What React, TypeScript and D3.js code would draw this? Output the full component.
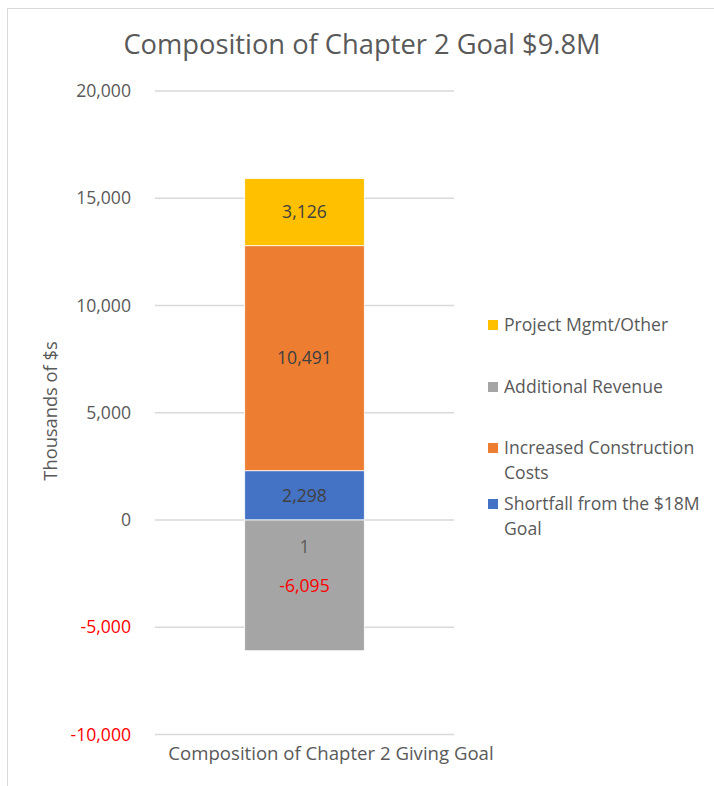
import React from "react";
import * as d3 from "d3";

const categories = ["Composition of Chapter 2 Giving Goal"];
const seriesNames = [
  "Shortfall from the $18M Goal",
  "Increased Construction Costs",
  "Additional Revenue",
  "Project Mgmt/Other",
];
const seriesValues = [2298, 10491, -6095, 3126];
const seriesColors = ["#4472C4", "#ED7D31", "#A5A5A5", "#FFC000"];
const legendOrder = [3, 2, 1, 0];
const legendLines = [
  ["Shortfall from the $18M", "Goal"],
  ["Increased Construction", "Costs"],
  ["Additional Revenue"],
  ["Project Mgmt/Other"],
];
const yTicks = [-10000, -5000, 0, 5000, 10000, 15000, 20000];
const extraLabel = { series: 2, text: "1" };
const title = "Composition of Chapter 2 Goal $9.8M";
const yTitle = "Thousands of $s";

const W = 714;
const H = 786;
const FONT = "'Open Sans', sans-serif";
const TXT = "#595959";
const FS = 17.6;

export default function App() {
  const y = d3.scaleLinear().domain([-10000, 20000]).range([734.5, 91]);
  const x = d3.scaleBand().domain(categories).range([155, 454]).paddingInner(0.6).paddingOuter(0.3);
  const row: any = { cat: categories[0] };
  seriesNames.forEach((n, i) => (row[n] = seriesValues[i]));
  const stack = d3.stack<any>().keys(seriesNames).offset(d3.stackOffsetDiverging);
  const stacked = stack([row]);
  const f = d3.format(",");
  const fmt = (v: number) => f(v).replace("\u2212", "-");
  const bx = x(categories[0])!;
  const bw = x.bandwidth();
  const cx = bx + bw / 2;
  const legendY = [504, 448, 387, 325];

  return (
    <svg width={W} height={H} style={{ position: "absolute", left: 0, top: 0 }} fontFamily={FONT}>
      <rect x={0} y={0} width={W} height={H} fill="#fff" />
      <line x1={7.5} x2={7.5} y1={8} y2={H} stroke="#D9D9D9" strokeWidth={1} />
      <line x1={7} x2={W} y1={8.5} y2={8.5} stroke="#D9D9D9" strokeWidth={1} />
      <text x={362} y={54} textAnchor="middle" fontSize={27.3} fill={TXT}>{title}</text>
      {yTicks.map((t) => (
        <g key={t}>
          <line x1={155} x2={454} y1={y(t)} y2={y(t)} stroke="#D9D9D9" strokeWidth={1.3} />
          <text x={131} y={y(t)} dy="0.35em" textAnchor="end" fontSize={FS} fill={t < 0 ? "#FF0000" : TXT}>
            {fmt(t)}
          </text>
        </g>
      ))}
      <text transform={`translate(51,411) rotate(-90)`} textAnchor="middle" dy="0.35em" fontSize={18.3} fill={TXT}>
        {yTitle}
      </text>
      {stacked.map((s, i) => {
        const d = s[0];
        const y0 = y(d[0]);
        const y1 = y(d[1]);
        const top = Math.min(y0, y1);
        const h = Math.abs(y1 - y0);
        const v = seriesValues[i];
        return (
          <g key={s.key}>
            <rect x={bx} y={top} width={bw} height={h} fill={seriesColors[i]} stroke="#fff" strokeWidth={0.8} />
            <text x={cx} y={top + h / 2} dy="0.35em" textAnchor="middle" fontSize={FS} fill={v < 0 ? "#FF0000" : "#404040"}>
              {fmt(v)}
            </text>
            {extraLabel.series === i && (
              <text x={cx} y={top + 27} dy="0.35em" textAnchor="middle" fontSize={FS} fill={TXT}>
                {extraLabel.text}
              </text>
            )}
          </g>
        );
      })}
      <text x={331} y={753} dy="0.35em" textAnchor="middle" fontSize={18.6} fill={TXT}>{categories[0]}</text>
      {legendOrder.map((si) => (
        <g key={si}>
          <rect x={488} y={legendY[si] - 5} width={10} height={10} fill={seriesColors[si]} />
          {legendLines[si].map((ln, j) => (
            <text key={j} x={504} y={legendY[si] + j * 24.5} dy="0.35em" fontSize={FS} fill={TXT}>{ln}</text>
          ))}
        </g>
      ))}
    </svg>
  );
}
